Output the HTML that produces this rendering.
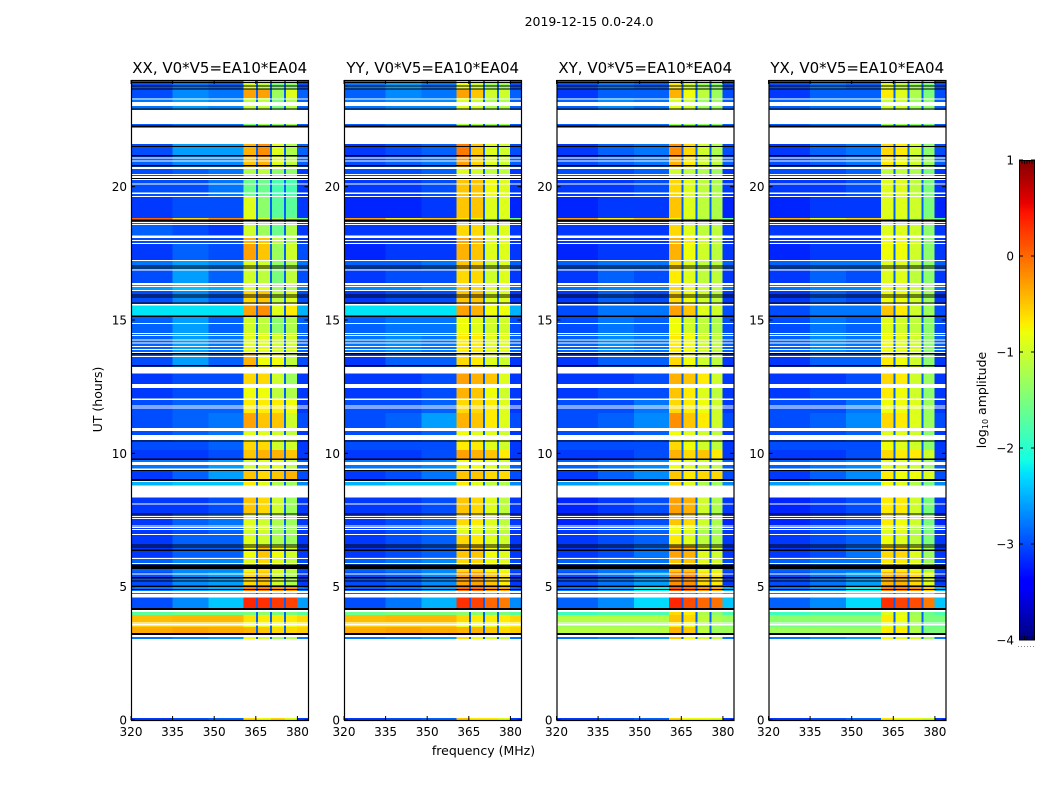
<!DOCTYPE html>
<html>
<head>
<meta charset="utf-8">
<title>2019-12-15 amplitude spectrogram</title>
<style>
html,body{margin:0;padding:0;background:#fff}
svg{display:block}
text{font-family:"DejaVu Sans","Liberation Sans",sans-serif;fill:#000}
</style>
</head>
<body>
<svg id="fig" xmlns="http://www.w3.org/2000/svg" width="1050" height="800" viewBox="0 0 1050 800">
<text x="589" y="26" font-size="12.5" text-anchor="middle">2019-12-15 0.0-24.0</text>
<text x="483.5" y="755" font-size="12.5" text-anchor="middle">frequency (MHz)</text>
<text x="0" y="0" font-size="12.5" text-anchor="middle" transform="translate(102,399.5) rotate(-90)">UT (hours)</text>
<text x="0" y="0" font-size="12.5" text-anchor="middle" transform="translate(986,400) rotate(-90)">log<tspan font-size="8" dy="2">10</tspan><tspan dy="-2"> amplitude</tspan></text>
</svg>
<script>
// Shared grid: frequency columns (MHz) and UT row edges (hours)
const freqEdges = [320,335,348,360.5,365.4,370.5,375.5,379.8,384];
const gapFreqs = [365.4,370.5,375.5];
const gapLevel = -2.9;
const timeEdges = [24,23.66,23.33,22.88,22.24,21.11,20.66,20.33,19.61,18.83,18.75,18.19,17.89,17.25,16.88,16.39,16.09,15.56,15.15,14.51,13.8,13.24,12.6,12,11.51,10.95,10.46,10.13,9.79,9.38,8.96,8.63,7.76,7.31,6.98,6.56,6.11,5.55,5.06,4.61,4.13,3.94,3.68,3.49,3.23,0.08,0];
const xTicks = [320,335,350,365,380];
const yTicks = [0,5,10,15,20];
const cbTicks = [1,0,-1,-2,-3,-4];
const panelTitles = ["XX, V0*V5=EA10*EA04","YY, V0*V5=EA10*EA04","XY, V0*V5=EA10*EA04","YX, V0*V5=EA10*EA04"];

// log10 amplitude per row, per frequency column
const levelsXX = [
[-3.0,-2.8,-2.9,-0.9,-1.1,-1.5,-1.4,-3.0],[-3.0,-2.7,-2.8,-0.3,-0.3,-1.3,-0.9,-2.9],[-2.8,-2.6,-2.7,-1.1,-1.1,-1.5,-1.2,-2.9],[-2.9,-2.8,-2.8,-1.5,-1.3,-1.4,-1.3,-2.9],
[-3.0,-2.6,-2.6,-0.4,-0.2,-0.9,-1.2,-2.9],[-2.9,-2.7,-2.7,-0.5,-0.4,-0.9,-1.1,-2.9],[-3.0,-2.9,-2.8,-1.2,-1.1,-1.4,-1.4,-3.1],[-3.0,-3.0,-2.8,-1.6,-1.6,-1.8,-1.8,-3.1],
[-3.1,-3.0,-3.0,-0.9,-1.4,-1.7,-1.7,-3.1],[0.0,-0.6,-0.2,-0.8,-0.9,-1.2,-1.2,-1.5],[-2.9,-3.0,-3.1,-1.0,-1.3,-1.6,-1.2,-3.1],[-3.0,-3.0,-3.0,-0.4,-0.5,-1.1,-1.2,-3.1],
[-3.1,-2.9,-3.0,-0.3,-0.5,-1.3,-1.0,-3.0],[-2.8,-2.6,-2.7,-0.9,-1.0,-1.4,-1.2,-2.8],[-3.0,-2.6,-2.9,-1.0,-1.1,-1.5,-1.1,-3.0],[-2.6,-2.4,-2.5,-0.9,-0.9,-1.3,-1.2,-2.7],
[-3.0,-2.7,-2.9,-0.6,-0.5,-1.1,-0.9,-3.0],[-2.25,-2.25,-2.25,-0.3,-0.2,-0.9,-0.7,-2.5],[-2.9,-2.6,-2.9,-1.0,-1.1,-1.4,-1.2,-2.9],[-2.9,-2.6,-2.8,-0.9,-0.9,-1.0,-1.0,-2.9],
[-3.0,-2.6,-2.9,-0.4,-0.8,-0.8,-1.1,-3.0],[-3.1,-3.0,-3.0,-0.6,-0.6,-1.0,-1.3,-3.1],[-3.1,-3.0,-3.0,-0.8,-0.8,-1.1,-1.2,-3.1],[-3.0,-2.9,-2.9,-0.7,-0.7,-0.7,-0.8,-3.1],
[-3.0,-2.9,-2.8,-0.3,-0.5,-0.5,-1.0,-3.0],[-3.0,-2.9,-2.8,-0.9,-0.9,-1.0,-1.1,-3.1],[-3.0,-3.0,-2.9,-0.6,-0.6,-1.0,-1.0,-3.1],[-3.1,-3.1,-3.0,-0.5,-0.4,-0.4,-0.5,-3.1],
[-2.8,-2.8,-2.6,-1.0,-0.9,-0.9,-1.1,-2.9],[-3.1,-2.9,-2.6,-0.5,-0.6,-0.5,-0.4,-3.0],[-2.5,-2.4,-2.4,-0.7,-0.9,-1.2,-1.3,-2.7],[-3.1,-3.1,-3.0,-0.5,-0.6,-1.0,-1.3,-3.1],
[-3.1,-2.9,-2.8,-0.9,-1.0,-1.2,-1.3,-3.1],[-3.1,-3.0,-2.9,-1.0,-1.0,-1.3,-1.3,-3.1],[-3.1,-2.9,-2.9,-0.9,-1.0,-1.2,-1.3,-3.1],[-3.1,-2.9,-2.9,-0.8,-0.5,-0.8,-1.0,-3.1],
[-2.9,-2.7,-2.7,-0.9,-0.6,-0.9,-1.1,-3.0],[-3.0,-2.7,-2.6,-0.6,-0.5,-1.0,-1.2,-3.1],[-2.8,-2.6,-2.5,-0.1,-0.1,-0.2,-0.2,-2.8],[-3.0,-2.7,-2.4,0.35,0.3,0.25,0.2,-2.6],
[-1.7,-1.6,-1.6,-1.5,-1.4,-1.5,-1.5,-1.7],[-0.45,-0.42,-0.42,-0.65,-0.7,-0.7,-0.7,-0.6],[-0.55,-0.55,-0.55,-0.8,-0.8,-0.8,-0.8,-0.7],[-0.35,-0.3,-0.35,-0.4,-0.5,-0.6,-0.6,-0.55],
[-2.8,-2.7,-2.6,-0.8,-1.0,-1.3,-1.2,-2.8],[-3.1,-3.0,-2.9,-0.6,-0.8,-0.6,-0.9,-3.1]];
const levelsYY = [
[-2.8,-2.6,-2.8,-0.8,-1.0,-1.3,-1.3,-3.0],[-2.9,-2.7,-2.8,-0.3,-0.5,-1.0,-1.0,-2.9],[-2.8,-2.7,-2.7,-0.9,-1.0,-1.2,-1.2,-2.9],[-2.9,-2.8,-2.8,-1.2,-1.2,-1.3,-1.3,-2.9],
[-3.1,-3.0,-2.9,-0.1,-0.5,-0.9,-1.0,-3.0],[-3.0,-2.9,-2.8,-0.3,-0.6,-0.9,-1.0,-2.9],[-3.0,-3.0,-2.9,-0.9,-1.0,-1.1,-1.1,-3.1],[-3.1,-3.1,-3.0,-0.5,-0.5,-0.8,-0.9,-3.1],
[-3.2,-3.2,-3.1,-0.5,-0.5,-0.9,-0.9,-3.2],[-0.3,-0.7,-0.5,-0.7,-0.8,-1.0,-1.0,-1.5],[-3.1,-3.1,-3.1,-0.6,-0.6,-1.0,-0.9,-3.1],[-3.1,-3.1,-3.1,-0.3,-0.4,-0.9,-0.9,-3.1],
[-3.2,-3.1,-3.1,-0.4,-0.5,-0.9,-0.9,-3.1],[-2.9,-2.9,-2.8,-0.5,-0.6,-1.0,-0.9,-2.9],[-3.1,-3.0,-3.0,-0.6,-0.6,-1.0,-0.9,-3.1],[-2.7,-2.7,-2.6,-0.5,-0.6,-0.9,-0.9,-2.8],
[-3.1,-3.0,-3.0,-0.5,-0.5,-0.9,-0.9,-3.1],[-2.25,-2.25,-2.25,-0.3,-0.4,-0.8,-0.8,-2.5],[-2.9,-2.8,-2.8,-0.8,-0.9,-1.0,-1.0,-3.0],[-2.8,-2.7,-2.8,-0.7,-0.7,-0.9,-0.9,-2.9],
[-3.1,-2.9,-2.9,-0.6,-0.7,-0.9,-1.0,-3.1],[-3.1,-3.1,-3.0,-0.3,-0.4,-0.5,-0.9,-3.1],[-3.1,-3.1,-3.0,-0.4,-0.5,-0.8,-1.0,-3.1],[-3.0,-3.0,-2.9,-0.6,-0.6,-0.7,-0.9,-3.1],
[-3.0,-2.9,-2.6,-0.4,-0.5,-0.7,-0.9,-3.0],[-3.0,-3.0,-2.9,-0.8,-0.9,-0.9,-1.0,-3.1],[-3.0,-3.0,-3.0,-0.7,-0.7,-0.9,-1.0,-3.1],[-3.1,-3.1,-3.0,-0.3,-0.4,-0.5,-0.7,-3.1],
[-2.8,-2.8,-2.7,-0.8,-0.8,-0.9,-1.0,-2.9],[-3.1,-3.0,-2.8,-0.5,-0.5,-0.6,-0.6,-3.0],[-2.5,-2.4,-2.4,-0.7,-0.9,-1.1,-1.2,-2.7],[-3.1,-3.1,-3.0,-0.5,-0.6,-0.9,-1.1,-3.1],
[-3.1,-3.0,-2.9,-0.6,-0.7,-0.9,-1.1,-3.1],[-3.1,-3.0,-2.9,-0.9,-0.9,-1.0,-1.1,-3.1],[-3.1,-3.0,-2.9,-0.6,-0.7,-0.9,-1.0,-3.1],[-3.1,-3.0,-2.9,-0.5,-0.5,-0.8,-0.9,-3.1],
[-2.9,-2.8,-2.7,-0.6,-0.6,-0.8,-0.9,-3.0],[-3.0,-2.9,-2.7,-0.3,-0.3,-0.5,-0.7,-3.1],[-2.9,-2.8,-2.6,0.0,0.0,-0.2,-0.3,-2.9],[-3.0,-2.8,-2.5,0.3,0.2,0.0,-0.1,-2.7],
[-1.6,-1.5,-1.5,-1.4,-1.4,-1.5,-1.5,-1.7],[-0.45,-0.42,-0.42,-0.6,-0.7,-0.7,-0.7,-0.6],[-0.55,-0.55,-0.55,-0.8,-0.8,-0.8,-0.8,-0.7],[-0.35,-0.3,-0.35,-0.4,-0.4,-0.5,-0.6,-0.55],
[-2.8,-2.7,-2.6,-0.6,-0.8,-1.0,-1.1,-2.8],[-3.1,-3.0,-2.9,-0.5,-0.7,-0.7,-0.9,-3.1]];
const levelsXY = [
[-3.0,-2.8,-2.9,-0.7,-1.0,-1.3,-1.4,-3.0],[-3.1,-2.9,-2.9,-0.4,-0.8,-1.1,-1.3,-3.0],[-2.9,-2.7,-2.8,-0.9,-1.0,-1.3,-1.3,-2.9],[-2.9,-2.8,-2.8,-1.3,-1.3,-1.4,-1.4,-2.9],
[-3.1,-2.9,-2.8,-0.2,-0.6,-1.0,-1.2,-3.0],[-3.0,-2.9,-2.8,-0.4,-0.7,-1.0,-1.1,-2.9],[-3.0,-3.0,-2.9,-1.0,-1.1,-1.2,-1.3,-3.1],[-3.1,-3.1,-3.0,-0.6,-0.9,-1.1,-1.2,-3.1],
[-3.2,-3.1,-3.1,-0.5,-0.9,-1.1,-1.2,-3.2],[-0.3,-0.7,-0.5,-0.8,-1.0,-1.2,-1.2,-1.6],[-3.1,-3.1,-3.1,-0.6,-0.9,-1.1,-1.1,-3.1],[-3.1,-3.1,-3.1,-0.4,-0.7,-1.0,-1.1,-3.1],
[-3.2,-3.1,-3.1,-0.4,-0.8,-1.0,-1.1,-3.1],[-2.9,-2.8,-2.8,-0.6,-0.9,-1.1,-1.1,-2.9],[-3.1,-2.9,-3.0,-0.7,-0.9,-1.1,-1.1,-3.1],[-2.8,-2.7,-2.7,-0.6,-0.8,-1.0,-1.1,-2.8],
[-3.1,-2.9,-3.0,-0.6,-0.8,-1.0,-1.1,-3.1],[-3.0,-2.8,-2.8,-0.3,-0.5,-0.9,-1.0,-3.0],[-3.0,-2.8,-2.9,-0.8,-1.0,-1.1,-1.2,-3.0],[-2.9,-2.7,-2.8,-0.7,-0.8,-1.0,-1.1,-2.9],
[-3.1,-2.9,-2.9,-0.6,-0.8,-1.0,-1.1,-3.1],[-3.1,-3.1,-3.0,-0.4,-0.5,-0.7,-1.0,-3.1],[-3.1,-3.0,-3.0,-0.5,-0.7,-0.9,-1.1,-3.1],[-3.0,-3.0,-2.8,-0.6,-0.7,-0.8,-1.0,-3.1],
[-3.0,-2.9,-2.7,-0.2,-0.5,-0.7,-1.0,-3.0],[-3.0,-3.0,-2.9,-0.8,-0.9,-1.0,-1.1,-3.1],[-3.0,-3.0,-3.0,-0.6,-0.8,-1.0,-1.1,-3.1],[-3.1,-3.1,-3.0,-0.4,-0.6,-0.5,-0.7,-3.1],
[-2.9,-2.8,-2.7,-0.8,-0.9,-1.0,-1.1,-2.9],[-3.1,-2.9,-2.7,-0.5,-0.7,-0.6,-0.6,-3.0],[-2.6,-2.5,-2.5,-0.6,-0.9,-1.2,-1.3,-2.7],[-3.2,-3.1,-3.0,-0.3,-0.4,-1.0,-1.2,-3.1],
[-3.2,-3.1,-3.0,-0.5,-0.6,-1.0,-1.2,-3.2],[-3.1,-3.0,-2.9,-0.8,-0.9,-1.2,-1.3,-3.1],[-3.1,-3.0,-2.9,-0.7,-0.9,-1.1,-1.2,-3.1],[-3.1,-3.0,-2.8,-0.3,-0.4,-0.9,-1.0,-3.1],
[-2.9,-2.8,-2.8,-0.5,-0.5,-0.9,-1.0,-3.0],[-3.0,-2.8,-2.6,-0.2,-0.2,-0.6,-0.7,-3.1],[-2.8,-2.6,-2.2,0.1,0.0,-0.2,-0.3,-2.5],[-2.9,-2.7,-2.3,0.35,0.15,0.0,-0.05,-2.4],
[-1.9,-1.8,-1.8,-0.6,-0.7,-1.2,-1.4,-1.8],[-1.15,-1.15,-1.15,-0.5,-0.6,-1.1,-1.2,-1.3],[-1.3,-1.3,-1.3,-0.7,-0.8,-1.2,-1.3,-1.4],[-1.15,-1.15,-1.15,-0.4,-0.5,-1.1,-1.3,-1.3],
[-2.8,-2.7,-2.6,-0.5,-0.8,-1.0,-1.1,-2.8],[-3.1,-3.0,-2.9,-0.6,-0.8,-0.8,-0.9,-3.1]];
const levelsYX = [
[-3.0,-2.8,-2.9,-0.9,-1.1,-1.3,-1.5,-3.0],[-3.1,-2.9,-2.9,-0.7,-0.9,-1.2,-1.5,-3.0],[-2.9,-2.8,-2.8,-1.0,-1.0,-1.3,-1.4,-2.9],[-2.9,-2.8,-2.8,-1.3,-1.3,-1.4,-1.5,-2.9],
[-3.1,-2.9,-2.8,-0.6,-0.7,-1.0,-1.4,-3.0],[-3.0,-2.9,-2.8,-0.7,-0.8,-1.0,-1.3,-2.9],[-3.0,-3.0,-2.9,-1.1,-1.1,-1.2,-1.5,-3.1],[-3.1,-3.1,-3.0,-0.9,-0.9,-1.1,-1.5,-3.1],
[-3.2,-3.1,-3.1,-0.9,-0.9,-1.0,-1.5,-3.2],[-0.4,-0.8,-0.6,-0.9,-1.0,-1.1,-1.3,-1.7],[-3.1,-3.1,-3.1,-0.9,-0.9,-1.0,-1.4,-3.1],[-3.1,-3.1,-3.1,-0.8,-0.8,-1.0,-1.4,-3.1],
[-3.2,-3.1,-3.1,-0.8,-0.8,-1.0,-1.4,-3.1],[-2.9,-2.8,-2.8,-0.9,-0.9,-1.1,-1.4,-2.9],[-3.1,-2.9,-3.0,-0.9,-0.9,-1.1,-1.4,-3.1],[-2.8,-2.7,-2.7,-0.8,-0.9,-1.0,-1.3,-2.8],
[-3.1,-2.9,-3.0,-0.8,-0.8,-1.0,-1.3,-3.1],[-3.0,-2.8,-2.8,-0.5,-0.7,-1.0,-1.3,-3.0],[-3.0,-2.8,-2.9,-0.9,-1.0,-1.1,-1.4,-3.0],[-2.9,-2.7,-2.8,-0.8,-0.9,-1.0,-1.4,-2.9],
[-3.1,-2.9,-2.9,-0.7,-0.8,-1.0,-1.4,-3.1],[-3.1,-3.1,-3.0,-0.6,-0.7,-1.0,-1.3,-3.1],[-3.1,-3.0,-3.0,-0.7,-0.8,-1.0,-1.4,-3.1],[-3.0,-3.0,-2.8,-0.8,-0.8,-0.9,-1.3,-3.1],
[-3.0,-2.9,-2.7,-0.6,-0.7,-0.9,-1.3,-3.0],[-3.0,-3.0,-2.9,-0.9,-0.9,-1.0,-1.4,-3.1],[-3.0,-3.0,-3.0,-0.8,-0.9,-1.0,-1.4,-3.1],[-3.1,-3.1,-3.0,-0.6,-0.7,-0.7,-1.0,-3.1],
[-2.9,-2.8,-2.7,-0.9,-0.9,-1.0,-1.3,-2.9],[-3.1,-2.9,-2.7,-0.7,-0.8,-0.8,-0.9,-3.0],[-2.6,-2.5,-2.5,-0.8,-0.9,-1.2,-1.5,-2.7],[-3.2,-3.1,-3.0,-0.7,-0.7,-1.0,-1.5,-3.1],
[-3.2,-3.1,-3.0,-0.7,-0.8,-1.0,-1.5,-3.2],[-3.1,-3.0,-2.9,-0.9,-0.9,-1.2,-1.5,-3.1],[-3.1,-3.0,-2.9,-0.8,-0.9,-1.1,-1.5,-3.1],[-3.1,-3.0,-2.8,-0.6,-0.6,-0.9,-1.3,-3.1],
[-2.9,-2.8,-2.8,-0.7,-0.7,-0.9,-1.3,-3.0],[-3.0,-2.8,-2.6,-0.4,-0.4,-0.6,-0.9,-3.1],[-2.8,-2.6,-2.2,-0.1,-0.1,-0.2,-0.5,-2.5],[-2.9,-2.7,-2.3,0.3,0.2,0.15,-0.1,-2.4],
[-1.9,-1.8,-1.8,-0.9,-0.9,-1.3,-1.6,-1.8],[-1.4,-1.4,-1.4,-0.7,-0.8,-1.2,-1.5,-1.5],[-1.55,-1.55,-1.55,-0.9,-1.0,-1.3,-1.6,-1.6],[-1.3,-1.3,-1.3,-0.7,-0.7,-1.2,-1.5,-1.5],
[-2.8,-2.7,-2.6,-0.8,-0.9,-1.0,-1.3,-2.8],[-3.1,-3.0,-2.9,-0.7,-0.8,-0.8,-1.0,-3.1]];
const panelLevels = [levelsXX,levelsYY,levelsXY,levelsYX];

// Flagged time ranges: white = no data [from,to] hours; black = [hour,thickness] hours
const whiteBands = [[23.30,23.26],[23.175,23.025],[22.875,22.35],[22.22,21.6],[21.09,21.06],[20.98,20.94],[20.74,20.66],[20.475,20.44],[20.4,20.325],[20.29,20.25],[20.12,20.08],[19.78,19.725],[19.65,19.61],[18.675,18.64],[18.6,18.56],[18.17,18.075],[18,17.96],[17.89,17.85],[17.25,17.21],[16.89,16.86],[16.39,16.31],[16.275,16.24],[16.125,16.09],[15.6,15.54],[14.89,14.85],[14.51,14.475],[14.44,14.4],[14.27,14.23],[14.16,14.12],[14.025,13.99],[13.91,13.875],[13.8,13.76],[13.65,13.62],[13.24,12.99],[12.6,12.45],[12.06,12],[11.79,11.76],[11.72,11.68],[10.95,10.84],[10.69,10.5],[9.675,9.56],[9.43,9.375],[8.96,8.925],[8.79,8.34],[8.12,8.09],[7.65,7.61],[7.575,7.54],[7.29,7.26],[7.24,7.2],[7.16,7.125],[6.975,6.945],[6.075,6.045],[5.89,5.85],[5.49,5.46],[4.84,4.76],[4.725,4.59],[4.125,4.05],[3.66,3.63],[3.6,3.54],[3.19,3.11],[3.04,0.08]];
const blackLines = [[23.91,0.04],[23.78,0.04],[23.66,0.04],[22.92,0.04],[22.25,0.07],[21.5,0.04],[21.16,0.04],[20.79,0.05],[20.31,0.04],[18.73,0.07],[17.03,0.04],[16.95,0.04],[15.94,0.05],[15.86,0.04],[15.64,0.04],[15.14,0.07],[13.73,0.05],[13.29,0.05],[10.46,0.05],[9.78,0.07],[9.36,0.04],[9.0,0.08],[7.73,0.04],[6.56,0.05],[6.49,0.04],[6.36,0.05],[5.75,0.16],[5.33,0.05],[5.21,0.04],[5.01,0.05],[4.89,0.04],[4.16,0.08],[3.23,0.08]];

const SVG_NS = "http://www.w3.org/2000/svg";
const fig = document.getElementById("fig");
const panelLefts = [131,344,556.5,768.5];
const panelW = 177.5, plotTop = 80, plotBottom = 720;
const cbX = 1019, cbW = 16, cbTop = 160, cbBottom = 640;
const xScale = (f, left) => left + (f - 320) * panelW / 64;
const yScale = h => plotBottom - h * (plotBottom - plotTop) / 24;
const cbScale = v => cbBottom - (v + 4) * (cbBottom - cbTop) / 5;

function jet(v){
  const t = Math.min(1, Math.max(0, (v + 4) / 5));
  const ramp = (pts) => {
    for (let i = 1; i < pts.length; i++) {
      if (t <= pts[i][0]) {
        const a = pts[i-1], b = pts[i];
        return a[1] + (b[1]-a[1]) * (t-a[0]) / (b[0]-a[0]);
      }
    }
    return pts[pts.length-1][1];
  };
  const r = ramp([[0,0],[0.35,0],[0.66,1],[0.89,1],[1,0.5]]);
  const g = ramp([[0,0],[0.125,0],[0.375,1],[0.64,1],[0.91,0],[1,0]]);
  const b = ramp([[0,0.5],[0.11,1],[0.34,1],[0.65,0],[1,0]]);
  return "rgb(" + Math.round(r*255) + "," + Math.round(g*255) + "," + Math.round(b*255) + ")";
}
function make(tag, attrs, parent){
  const n = document.createElementNS(SVG_NS, tag);
  for (const k in attrs) n.setAttribute(k, attrs[k]);
  (parent || fig).appendChild(n);
  return n;
}
function band(g, x, w, h0, h1, fill){
  return make("rect",{x:x,y:yScale(h0),width:w,height:Math.max(1,yScale(h1)-yScale(h0)),fill:fill,"shape-rendering":"crispEdges"},g);
}

panelLevels.forEach((rows, p) => {
  const left = panelLefts[p];
  const g = make("g",{});
  
  

  rows.forEach((row, r) => {
    row.forEach((val, c) => {
      const x0 = xScale(freqEdges[c], left), x1 = xScale(freqEdges[c+1], left);
      const cell = band(g, x0, x1 - x0, timeEdges[r], timeEdges[r+1], jet(val));
      
      
    });
  });
  gapFreqs.forEach(f => {
    const gap = band(g, xScale(f, left) - 1, 2, 24, 0.08, jet(gapLevel));
    
    
  });
  whiteBands.forEach(b => {
    const w = band(g, left, panelW, b[0], b[1], "#fff");
    
    
  });
  blackLines.forEach(b => {
    const k = band(g, left, panelW, b[0] + b[1]/2, b[0] - b[1]/2, "#000");
    
    
  });

  const frame = make("rect",{x:left+0.5,y:plotTop+0.5,width:panelW-0.5,height:plotBottom-plotTop,fill:"none",stroke:"#000","stroke-width":1.2},g);
  
  

  xTicks.forEach(t => {
    const x = xScale(t, left);
    [[plotBottom,plotBottom-4],[plotTop,plotTop+4]].forEach(e => {
      const tick = make("line",{x1:x,x2:x,y1:e[0],y2:e[1],stroke:"#000","stroke-width":1},g);
      
      
    });
    const lab = make("text",{x:x,y:plotBottom+16,"font-size":12,"text-anchor":"middle"},g);
    lab.textContent = t;
    
    
  });
  yTicks.forEach(t => {
    const y = yScale(t);
    [[left,left+4],[left+panelW,left+panelW-4]].forEach(e => {
      const tick = make("line",{x1:e[0],x2:e[1],y1:y,y2:y,stroke:"#000","stroke-width":1},g);
      
      
    });
    const lab = make("text",{x:left-4,y:y+4.5,"font-size":12,"text-anchor":"end"},g);
    lab.textContent = t;
    
    
  });
  const title = make("text",{x:left+panelW/2,y:73,"font-size":15,"text-anchor":"middle"},g);
  title.textContent = panelTitles[p];
  
  
});

// Colorbar
const cb = make("g",{});


for (let py = cbTop; py < cbBottom; py += 2) {
  const v = 1 - (py + 1 - cbTop) * 5 / (cbBottom - cbTop);
  const seg = make("rect",{x:cbX,y:py,width:cbW,height:2,fill:jet(v),"shape-rendering":"crispEdges"},cb);
  
  
}
const cbFrame = make("rect",{x:cbX+0.5,y:cbTop+0.5,width:cbW-1,height:cbBottom-cbTop-0.5,fill:"none",stroke:"#000","stroke-width":1},cb);


cbTicks.forEach(t => {
  const y = cbScale(t);
  [[cbX,cbX+4],[cbX+cbW,cbX+cbW-4]].forEach(e => {
    const tick = make("line",{x1:e[0],x2:e[1],y1:y,y2:y,stroke:"#000","stroke-width":1},cb);
    
    
  });
  const lab = make("text",{x:cbX-5,y:y+4.5,"font-size":12,"text-anchor":"end"},cb);
  lab.textContent = String(t).replace("-", "\u2212");
  
  
});
[cbTop, cbBottom - 4].forEach(y0 => {
  for (let x = cbX + 3; x < cbX + cbW - 1; x += 2.5) {
    const m = make("line",{x1:x,x2:x,y1:y0,y2:y0+4,stroke:"#000","stroke-width":0.8},cb);
    
    
  }
});
for (let x = cbX - 1; x < cbX + cbW; x += 3) {
  const d = make("rect",{x:x,y:646,width:1,height:1,fill:"#888"},cb);
  
  
}
</script>
</body>
</html>
